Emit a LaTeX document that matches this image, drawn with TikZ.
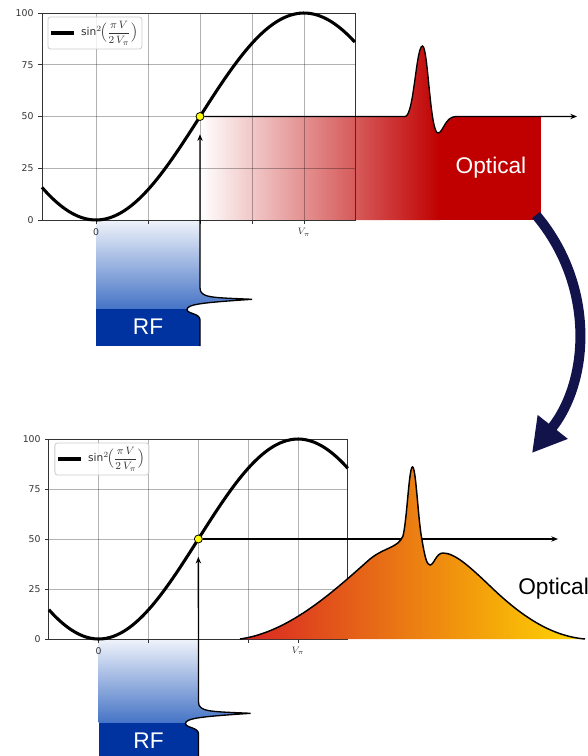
\documentclass[tikz,border=0pt]{standalone}
\usepackage{amsmath}
\usepackage{fontspec}
\setmainfont{Liberation Sans}
\newfontfamily\tickfont{DejaVu Sans}
\usetikzlibrary{arrows.meta, positioning}
\definecolor{optred}{HTML}{C00000}
\definecolor{rfpale}{HTML}{EEF2FA}
\definecolor{rfmid}{HTML}{4674C6}
\definecolor{rfdark}{HTML}{0033A0}
\definecolor{navyblue}{HTML}{11134A}
\definecolor{hotred}{HTML}{D82424}
\definecolor{hotorange}{HTML}{F8820F}
\definecolor{hotyellow}{HTML}{FFD800}
\definecolor{opyellow}{HTML}{FFFF00}

\begin{document}
\begin{tikzpicture}[x=0.75pt, y=-0.75pt,
    gridline/.style={black, opacity=0.3, line width=0.6pt},
    frame/.style={black!80, line width=0.6pt},
    ticklabel/.style={font=\tickfont\fontsize{7}{8}\selectfont, text=black!80, inner sep=3pt},
    transfer/.style={black, line width=2.3pt},
    sigline/.style={black, line width=1pt, -{Stealth[length=5pt, width=4pt]}},
    opdot/.style={circle, draw=black, fill=opyellow, line width=0.6pt, minimum size=6pt, inner sep=0pt},
    biglabel/.style={font=\fontsize{17}{20}\selectfont, inner sep=0pt},
    legendbox/.style={draw=black!20, fill=white, fill opacity=0.8, rounded corners=2pt, line width=0.6pt}]
  \useasboundingbox (0,0) rectangle (587,756);

  % optical output (top): fade into red below the waveform
  \begin{scope}
    \clip (200,220) -- (200,116.5) -- (405,116.5) .. controls (414,116.5) and (416,46) .. (422.5,46)
      .. controls (428,46) and (430,133) .. (438,133) .. controls (443,133) and (445,116.5) .. (456,116.5)
      -- (541,116.5) -- (541,220) -- cycle;
    \shade[left color=white, right color=optred] (200,40) rectangle (440,220);
    \fill[optred] (440,40) rectangle (541,220);
  \end{scope}

  % RF drive areas
  \foreach \i/\dx/\dy/\xl/\yt in {1/0/0/96/221, 2/-1.5/414/100.2/226}{
    \begin{scope}[shift={(\dx,\dy)}]
      \clip (\xl,346) -- (200,346) -- (200,320) .. controls (200,313) and (187,314) .. (187,309.5)
        .. controls (187,304) and (205,302.5) .. (252,299.3) .. controls (212,297.5) and (200,298) .. (200,288)
        -- (200,\yt) -- (\xl,\yt) -- cycle;
      \shade[top color=rfpale, bottom color=rfmid] (\xl,\yt) rectangle (255,308.5);
      \fill[rfdark] (\xl,308.5) rectangle (255,346);
    \end{scope}
  }

  % transfer curves
  \foreach \i/\ox/\oy/\sx/\sy/\xa/\xb in {1/96/220/208/2.07/-0.26/1.245, 2/98.7/639/199.3/2.0/-0.25/1.25}{
    \begin{scope}[shift={(\ox,\oy)}, xscale=\sx, yscale=-\sy]
      \foreach \v in {0,0.25,0.5,0.75,1}
        \draw[gridline] (\v,0) -- (\v,100);
      \foreach \p in {25,50,75}
        \draw[gridline] (\xa,\p) -- (\xb,\p);
      \draw[frame] (\xa,0) rectangle (\xb,100);
      \foreach \v in {0,0.25,0.5,0.75,1}
        \draw[frame] (\v,0) -- (\v,-2);
      \foreach \p in {0,25,...,100}{
        \draw[frame] (\xa,\p) -- (\xa-0.02,\p);
        \node[ticklabel, anchor=east] at (\xa-0.02,\p) {\p};
      }
      \node[ticklabel, anchor=north] at (0,-2) {0};
      \node[ticklabel, anchor=north] at (1,-2) {$V_\pi$};
      \draw[transfer] plot[domain=\xa:\xb, samples=80, smooth] (\x,{100*(sin(90*\x))^2});
      \coordinate (lg\i) at (\xa,100);
      \coordinate (op\i) at (0.5,50);
    \end{scope}
    % legend
    \draw[legendbox] ([shift={(6,4)}]lg\i) rectangle ([shift={(100,36)}]lg\i);
    \draw[transfer] ([shift={(9,20)}]lg\i) -- ([shift={(32,20)}]lg\i);
    \node[ticklabel, anchor=west, inner sep=0pt, font=\tickfont\fontsize{8}{9}\selectfont] (leg\i)
      at ([shift={(39,20)}]lg\i)
      {sin$^2\!\Bigl(\dfrac{\pi\,V}{2\,V_\pi}\Bigr)$};
  }

  % operating points
  \node[opdot] (dot1) at (op1) {};
  \node[opdot] (dot2) at (op2) {};

  % output waveforms
  \draw[sigline] (dot1.east) -- (405,116.5) .. controls (414,116.5) and (416,46) .. (422.5,46)
    .. controls (428,46) and (430,133) .. (438,133) .. controls (443,133) and (445,116.5) .. (456,116.5)
    -- (577,116.5);
  \draw[sigline] (dot2.east) -- (558,539);
  \draw[line width=1.1pt, preaction={left color=hotred, middle color=hotorange, right color=hotyellow}]
    (240,639) .. controls (290,632) and (335,590) .. (370,559) .. controls (385,547) and (398,548) .. (403,536)
    .. controls (407,520) and (409,467) .. (412.5,467) .. controls (416,467) and (418,520) .. (422,540)
    .. controls (425,558) and (427,565) .. (430,565) .. controls (434,565) and (436,553) .. (443,553)
    .. controls (455,553) and (470,567) .. (490,586) .. controls (520,615) and (550,636) .. (585,639);

  % RF drive waveforms into the bias points
  \foreach \i/\dx/\dy/\xl in {1/0/0/96, 2/-1.5/414/100.2}{
    \begin{scope}[shift={(\dx,\dy)}]
      \node[biglabel, text=white] (rf\i) at ({(\xl+200)/2},327) {RF};
      \draw[sigline, shorten >=10pt] (200,346) -- (200,320) .. controls (200,313) and (187,314) .. (187,309.5)
        .. controls (187,304) and (205,302.5) .. (252,299.3) .. controls (212,297.5) and (200,298) .. (200,288)
        -- (dot\i);
    \end{scope}
  }

  \node[biglabel, text=white] (opt1) at (491,168) {Optical};
  \node[biglabel, anchor=west] (opt2) at (518,589) {Optical};

  % from one bias point to the other
  \coordinate (turnstart) at (536,215);
  \coordinate (turnend) at (532,453);
  \draw[navyblue, line width=7.5pt, -{Triangle[length=25pt, width=27pt]}]
    (turnstart) .. controls (595,285) and (590,380) .. (turnend);
\end{tikzpicture}
\end{document}
